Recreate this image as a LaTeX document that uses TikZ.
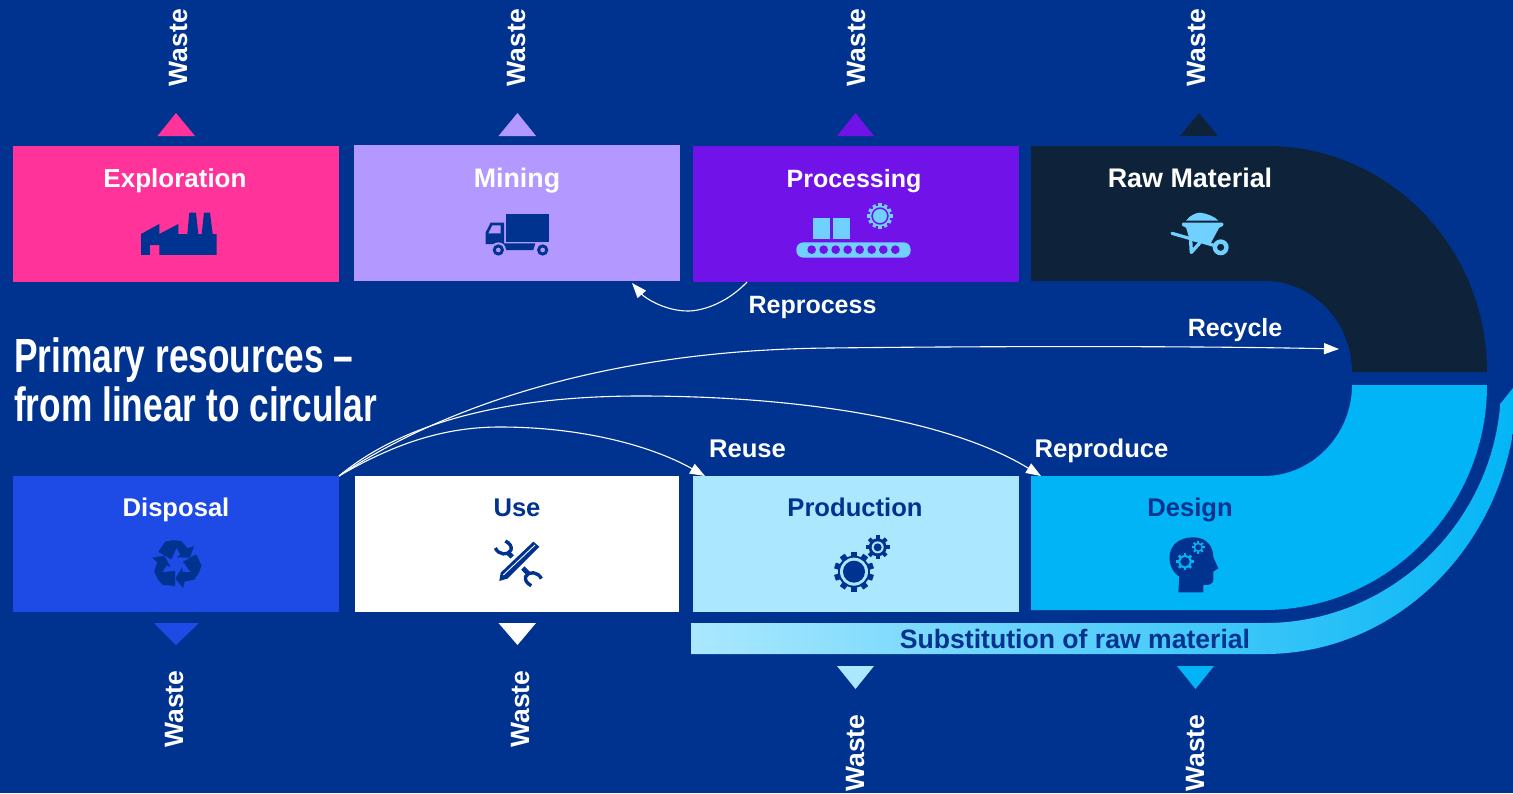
\documentclass[tikz,border=0pt]{standalone}
\usepackage{fontspec}
\setmainfont{Liberation Sans}
\newfontfamily\titlefont[FakeStretch=0.735]{Liberation Sans}
\usetikzlibrary{arrows.meta}
\definecolor{bgblue}{HTML}{00338F}
\definecolor{cpink}{HTML}{FF3399}
\definecolor{clav}{HTML}{B399FF}
\definecolor{cpurple}{HTML}{7012E8}
\definecolor{cnavy}{HTML}{0E2339}
\definecolor{cblue}{HTML}{1E4BE6}
\definecolor{cpale}{HTML}{ABE8FF}
\definecolor{ccyan}{HTML}{00B4F5}
\definecolor{cicon}{HTML}{70D0FF}
\newcommand{\gearshape}[6]{% x y body tooth halfwidth count
  \fill (#1,#2) circle[radius=#3];
  \foreach \a in {1,...,#6}{
    \fill[rotate around={360*\a/#6:(#1,#2)}] (#1-#5,#2) rectangle (#1+#5,#2+#4);
  }
}
\tikzset{
  x=1pt,y=-1pt,
  box/.style={rectangle,inner sep=0pt,outer sep=0pt},
  lbl/.style={anchor=base,inner sep=0pt,font=\fontsize{25.6}{30}\selectfont\bfseries,text=white},
  lblsize/.style={font=\fontsize{#1}{30}\selectfont\bfseries},
  dlbl/.style={lbl,text=bgblue},
  waste/.style={lbl,rotate=90,lblsize=26.5},
  flow/.style={white,line width=1.1pt,-{Triangle[length=15pt,width=11pt]}},
  icon/.style={x=.3333pt,y=-.3333pt},
  titletext/.style={anchor=base west,inner sep=0pt,align=left,text=white,font=\titlefont\fontsize{48}{49}\selectfont\bfseries},
}
\begin{document}
\begin{tikzpicture}
\useasboundingbox (0,0) rectangle (1513,793);
\fill[bgblue] (0,0) rectangle (1513,793);
\clip (0,0) rectangle (1513,793);

% boxes
\node[box,fill=cpink,minimum width=326pt,minimum height=136pt] (exploration) at (176,214) {};
\node[box,fill=clav,minimum width=326pt,minimum height=136pt] (mining) at (517,213) {};
\node[box,fill=cpurple,minimum width=326pt,minimum height=136pt] (processing) at (856,214) {};
\node[box,fill=cblue,minimum width=326pt,minimum height=136pt] (disposal) at (176,544) {};
\node[box,fill=white,minimum width=324pt,minimum height=136pt] (use) at (517,544) {};
\node[box,fill=cpale,minimum width=326pt,minimum height=136pt] (production) at (856,544) {};

% raw material bend
\fill[cnavy] (1031,146) -- (1267,146) .. controls (1388.5,146) and (1487,247) .. (1487,372)
  -- (1352,372) .. controls (1352,322) and (1313,281) .. (1265,281) -- (1031,281) -- cycle;
% design bend
\fill[ccyan] (1031,476) -- (1264,476) .. controls (1312,476) and (1352,435) .. (1352,385)
  -- (1487,385) .. controls (1487,509) and (1387,610) .. (1264,610) -- (1031,610) -- cycle;

% substitution band
\begin{scope}
  \clip (680,403) -- (1501,403) -- (1513,388) -- (1513,793) -- (680,793) -- cycle;
  \shade[left color=cpale,middle color=cicon!80!ccyan,right color=ccyan]
    (691,623) -- (1265,623) .. controls (1395,623) and (1501,516) .. (1501,385)
    -- (1530,385) -- (1517,385) .. controls (1517,533) and (1404,654) .. (1265,654) -- (691,654) -- cycle;
\end{scope}

% triangles
\fill[cpink] (157.5,136) -- (176,113) -- (195,136) -- cycle;
\fill[clav] (498.5,136) -- (517.5,113) -- (536,136) -- cycle;
\fill[cpurple] (837,136) -- (855.5,113) -- (874,136) -- cycle;
\fill[cnavy] (1180,136) -- (1199,113) -- (1218,136) -- cycle;
\fill[cblue] (154,623) -- (176,645) -- (199,623) -- cycle;
\fill[white] (498.5,623) -- (517.5,645) -- (536,623) -- cycle;
\fill[cpale] (837,666) -- (855.5,689) -- (874,666) -- cycle;
\fill[ccyan] (1177,666) -- (1195.5,689) -- (1214,666) -- cycle;

% labels
\node[lbl,lblsize=26] (tExpl) at (175,187) {Exploration};
\node[lbl,lblsize=26.8] (tMin) at (517,187) {Mining};
\node[lbl,lblsize=25] (tProc) at (854,187) {Processing};
\node[lbl,lblsize=26.9] (tRaw) at (1190,187) {Raw Material};
\node[lbl] (tDisp) at (176,516) {Disposal};
\node[dlbl] (tUse) at (517,516) {Use};
\node[dlbl] (tProd) at (855,516) {Production};
\node[dlbl] (tDes) at (1190,516) {Design};
\node[dlbl,lblsize=26.6] (tSub) at (1075,648) {Substitution of raw material};
\node[lbl,lblsize=25] (tRepr) at (812.5,313) {Reprocess};
\node[lbl,lblsize=25] (tRecy) at (1235,336) {Recycle};
\node[lbl] (tReus) at (747.5,457) {Reuse};
\node[lbl] (tRepd) at (1101.5,457) {Reproduce};

\node[waste] (w1) at (187,47.5) {Waste};
\node[waste] (w2) at (525,47.5) {Waste};
\node[waste] (w3) at (865,47.5) {Waste};
\node[waste] (w4) at (1205,47.5) {Waste};
\node[waste] (w5) at (183,709) {Waste};
\node[waste] (w6) at (529,709) {Waste};
\node[waste] (w7) at (864,753) {Waste};
\node[waste] (w8) at (1204,753) {Waste};

\node[titletext] (title) at (14,372) {Primary resources –};
\node[titletext] (title2) at (14,421) {from linear to circular};

% connectors
\coordinate (repS) at (747,282);
\coordinate (repM) at (688,311);
\coordinate (repE) at (632,283);
\draw[flow] (repS) .. controls (725,305) and (700,311) .. (repM) .. controls (665,311) and (645,298) .. (repE);
\coordinate (recM) at (830,348);
\coordinate (recE) at (1339,349);
\draw[flow] (disposal.north east) .. controls (430,415) and (590,350) .. (recM) .. controls (1000,346) and (1200,346) .. (recE);
\coordinate (rpdM) at (640,396);
\coordinate (rpdE) at (1041,476);
\draw[flow] (disposal.north east) .. controls (400,425) and (500,396) .. (rpdM) .. controls (800,396) and (950,420) .. (rpdE);
\coordinate (reuM) at (500,427);
\coordinate (reuE) at (705,476);
\draw[flow] (disposal.north east) .. controls (400,440) and (450,427) .. (reuM) .. controls (580,427) and (650,445) .. (reuE);

% factory
\begin{scope}[shift={(130,200)},icon]
\fill[bgblue] (33,102) -- (88,72) -- (88,102) -- (145,72) -- (145,102) -- (172,102) -- (178,38) -- (198,38) -- (205,102) -- (215,102) -- (222,38) -- (240,38) -- (248,102) -- (260,102) -- (260,165) -- (88,165) -- (88,135) -- (60,135) -- (60,165) -- (33,165) -- cycle;
\end{scope}
% truck
\begin{scope}[shift={(470,200)},icon]
\fill[bgblue] (108,42) rectangle (237,125);
\fill[bgblue] (47,132) -- (47,97) -- (62,68) -- (102,68) -- (102,132) -- cycle;
\fill[clav] (55,100) -- (67,76) -- (92,76) -- (92,100) -- cycle;
\fill[bgblue] (100,130) -- (196,130) -- (190,150) -- (100,150) -- cycle;
\foreach \wx in {85,218}{
  \fill[clav] (\wx,150) circle[radius=23];
  \fill[bgblue] (\wx,150) circle[radius=17];
  \fill[clav] (\wx,150) circle[radius=7];
}
\end{scope}
% conveyor
\begin{scope}[shift={(790,190)},icon]
\fill[cicon] (69,84) rectangle (119,147);
\fill[cicon] (130,84) rectangle (180,147);
\fill[cicon,rounded corners=7pt] (19,157) rectangle (362,203);
\foreach \hx in {65,101,137,173,209,245,280,316}{\fill[cpurple] (\hx,179) circle[radius=13];}
\begin{scope}[cicon]\gearshape{270}{78}{31}{38}{5}{12}\end{scope}
\fill[cpurple] (270,78) circle[radius=26];
\fill[cicon] (270,78) circle[radius=21];
\end{scope}
% wheelbarrow
\begin{scope}[shift={(1150,200)},icon]
\fill[cicon] (108,62) .. controls (120,45) and (140,38) .. (150,38) .. controls (170,40) and (195,50) .. (205,62) -- cycle;
\fill[cicon,rounded corners=1pt] (96,68) -- (220,68) -- (220,78) -- (208,82) -- (180,134) -- (120,122) -- (108,82) -- (96,78) -- cycle;
\draw[cicon,line width=3.2pt,line cap=round] (66,100) -- (195,137);
\draw[cicon,line width=3.4pt,line cap=round,line join=round] (122,122) -- (124,157) -- (150,128);
\fill[cicon,even odd rule] (212,142) circle[radius=24] (212,142) circle[radius=11];
\end{scope}
% recycle
\begin{scope}[shift={(176.5,564)},x=.35pt,y=-.35pt]
\foreach \r in {0,120,240}{
  \fill[bgblue,rotate around={\r:(0,0)}] (-52,-35) -- (-32,-64) -- (-10,-68) -- (13,-66) -- (32,-45) -- (50,-51) -- (38,-18) -- (0,-19) -- (11,-26) -- (0,-47) -- (-15,-13) -- cycle;
}
\end{scope}
% tools
\begin{scope}[shift={(480,530)},icon]
\draw[bgblue,line width=4.7pt] (86,70) -- (146,132);
\draw[bgblue,line width=3.4pt] (46,54) .. controls (55,75) and (85,78) .. (93,60) .. controls (96,50) and (90,40) .. (76,33);
\draw[bgblue,line width=3.4pt] (184,146) .. controls (175,125) and (145,122) .. (137,140) .. controls (134,150) and (140,160) .. (154,167);
\fill[white] (50,160) -- (50,125) -- (160,22) -- (190,50) -- (85,158) -- cycle;
\fill[bgblue] (58,153) -- (62,128) -- (160,35) -- (178,50) -- (82,146) -- cycle;
\draw[white,line width=.9pt] (70,135) -- (165,45);
\end{scope}
% gears
\begin{scope}[shift={(820,530)},icon]
\begin{scope}[bgblue]\gearshape{102}{125}{48}{60}{9}{10}\end{scope}
\fill[cpale] (102,125) circle[radius=42];
\fill[bgblue] (102,125) circle[radius=33];
\begin{scope}[bgblue]\gearshape{173}{52}{27}{36}{6}{8}\end{scope}
\fill[cpale] (173,52) circle[radius=18];
\fill[bgblue] (173,52) circle[radius=12];
\end{scope}
% head
\begin{scope}[shift={(1150,530)},icon]
\fill[bgblue] (85,187) -- (88,140) .. controls (42,110) and (45,22) .. (130,22) .. controls (175,22) and (190,55) .. (190,82) -- (205,115) -- (190,125) -- (190,150) .. controls (188,165) and (175,165) .. (160,165) -- (160,187) -- cycle;
\begin{scope}[ccyan]\gearshape{105}{95}{20}{26}{4}{8}\end{scope}
\fill[bgblue] (105,95) circle[radius=14];
\begin{scope}[ccyan]\gearshape{145}{52}{14}{19}{3}{8}\end{scope}
\fill[bgblue] (145,52) circle[radius=9];
\end{scope}
\end{tikzpicture}
\end{document}
